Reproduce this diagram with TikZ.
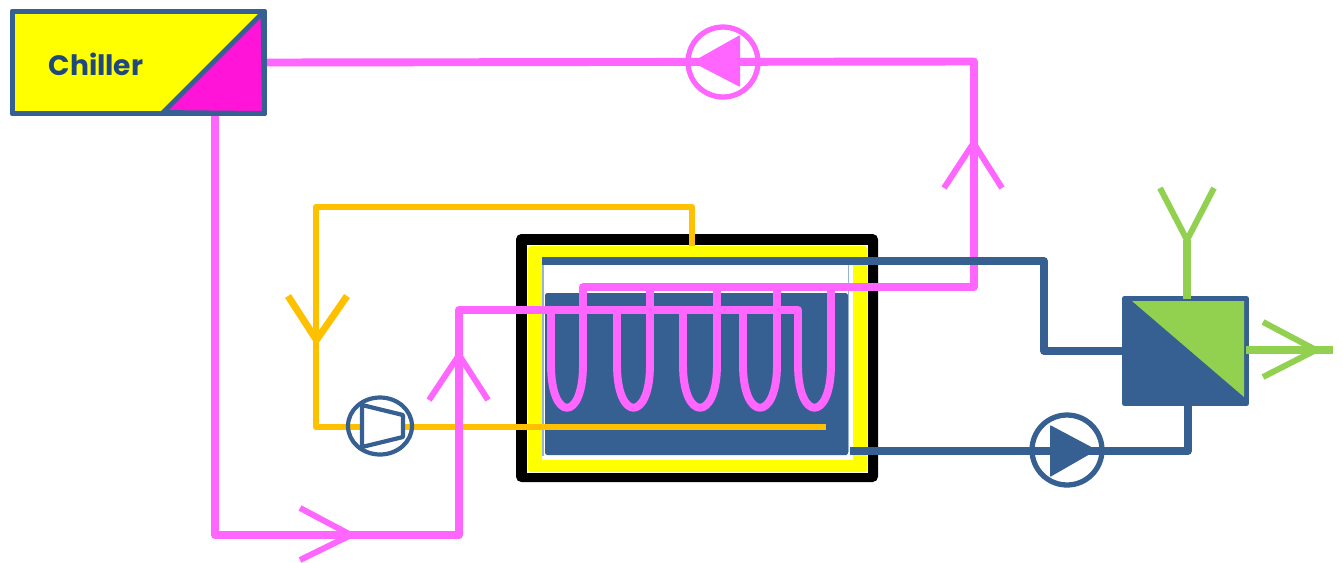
\documentclass[tikz,border=0pt]{standalone}
\usepackage{fontspec}
\setsansfont{Poppins}
\usetikzlibrary{shapes.geometric}
\definecolor{PipeBlue}{HTML}{376092}
\definecolor{TextBlue}{HTML}{1F497D}
\definecolor{PipePink}{HTML}{FF66FF}
\definecolor{PipeOrange}{HTML}{FFC000}
\definecolor{PipeGreen}{HTML}{92D050}
\definecolor{HotPink}{HTML}{FF14D8}
\definecolor{EdgeBlue}{HTML}{95B3D7}
\definecolor{TankYellow}{rgb}{1,1,0}
\tikzset{
  pinkpipe/.style={draw=PipePink, line width=4.5pt, line join=round},
  bluepipe/.style={draw=PipeBlue, line width=4.3pt, line join=round},
  orangepipe/.style={draw=PipeOrange, line width=3.7pt, line join=round},
  greenpipe/.style={draw=PipeGreen, line width=4.3pt, line join=round},
  pumpring/.style={circle, draw, fill=white, line width=3pt, minimum size=1.4cm, inner sep=0pt, outer sep=0pt},
  blockbox/.style={rectangle, draw=PipeBlue, line width=2.8pt, line join=round, inner sep=0pt, outer sep=0pt}
}
\begin{document}
\begin{tikzpicture}[x=0.02cm, y=-0.02cm]
    \useasboundingbox (0,0) rectangle (1343,562);
    % tank
    \fill[black, rounded corners=3pt] (516,234) rectangle (878,482);
    \fill[white] (527,245) rectangle (868,473);
    \fill[TankYellow, rounded corners=1pt] (528,246) rectangle (867,472);
    \fill[white] (542,259) rectangle (853,460);
    \fill[PipeBlue, rounded corners=1pt] (545,293) rectangle (848,455);
    \draw[EdgeBlue, line width=0.8pt] (543,263) -- (543,456);
    \draw[EdgeBlue, line width=0.8pt] (848.5,263) -- (848.5,452);
    % named points of the pipes
    \node[blockbox, fill=TankYellow, minimum width=5.04cm, minimum height=2.04cm] (chiller) at (138.5,62.5) {};
    \node[blockbox, fill=PipeBlue, minimum width=2.44cm, minimum height=2.1cm] (hx) at (1185.5,351) {};
    \coordinate (hotcorner) at (974,61.5);
    \coordinate (hotback) at (974,287);
    \coordinate (coilout) at (583,287);
    \coordinate (coldstart) at (215,115);
    \coordinate (coldcorner) at (215,535);
    \coordinate (coldriser) at (459,535);
    \coordinate (coldtop) at (459,310);
    \coordinate (coilin) at (798,310);
    \coordinate (tanktop) at (692,246);
    \coordinate (refrtop) at (692,207);
    \coordinate (refrleft) at (316,207);
    \coordinate (refrbot) at (316,427);
    \coordinate (refrend) at (826,427);
    \coordinate (blueleft) at (542,261);
    \coordinate (blueright) at (1044,261);
    \coordinate (bluedown) at (1044,351);
    \coordinate (bluestart) at (850,451);
    \coordinate (bluecorner) at (1188,451);
    \coordinate (greenup) at (1187,240);
    \coordinate (greenend) at (1333,350);
    % refrigerant
    \draw[orangepipe] (tanktop) -- (refrtop) -- (refrleft) -- (refrbot) -- (refrend);
    \draw[orangepipe, line width=3.97pt] (288,296) -- (316.5,340) -- (347,296);
    \node[ellipse, draw=PipeBlue, line width=2.4pt, minimum width=1.28cm, minimum height=1.14cm, inner sep=0pt] (compressor) at (380,426) {};
    \filldraw[draw=PipeBlue, fill=white, line width=2.4pt, line join=round]
    (362,405) -- (403,415) -- (403,437) -- (362,447) -- cycle;
    % chiller water, the coil
    \draw[pinkpipe] (chiller.east) -- (hotcorner) -- (hotback) -- (coilout) -- (583,370);
    \draw[pinkpipe] (chiller.south -| coldstart) -- (coldcorner) -- (coldriser) -- (coldtop) -- (coilin) -- (798,370);
    \foreach \lft/\rgt in {551/583, 617/650, 683/717, 743/777, 798/831}{
      \draw[pinkpipe] (\lft,310) -- (\lft,365) .. controls (\lft,422) and (\rgt,422) .. (\rgt,365) -- (\rgt,287);
    }
    \draw[pinkpipe, line width=3.4pt] (944,188) -- (973.5,143) -- (1002,188);
    \draw[pinkpipe, line width=3.4pt] (300,508) -- (351,535) -- (300,560);
    \draw[pinkpipe, line width=3.4pt] (429,400) -- (459,355) -- (488,400);
    \node[pumpring, draw=PipePink, fill=none] (pumpa) at (723,62) {};
    \fill[PipePink, rounded corners=0.5pt] (740,35) -- (692,62) -- (740,87) -- cycle;
    % heat source water
    \draw[bluepipe] (blueleft) -- (blueright) -- (bluedown) -- (hx.west |- bluedown);
    \draw[bluepipe] (bluestart) -- (bluecorner) -- (hx.south -| bluecorner);
    \node[pumpring, draw=PipeBlue, fill=none] (pumpb) at (1067,450) {};
    \fill[PipeBlue, rounded corners=0.5pt] (1050,425) -- (1097,450) -- (1050,477) -- cycle;
    % chiller and heat exchanger
    \filldraw[draw=PipeBlue, fill=HotPink, line width=2.8pt, line join=round] (263,12.5) -- (chiller.south east) -- (163,112.5) -- cycle;
    \node[blockbox, minimum width=5.04cm, minimum height=2.04cm] at (chiller) {};
    \node[font=\sffamily\bfseries\fontsize{16}{16}\selectfont, text=TextBlue, inner sep=0pt] (chillerlabel) at (96,64) {Chiller};
    \fill[PipeGreen] (1132,301) -- (1244,301) -- (1244,397) -- cycle;
    \draw[greenpipe] (hx.north -| greenup) -- (greenup);
    \draw[greenpipe, line width=3.4pt] (1160,188) -- (1187,240) -- (1214,188);
    \draw[greenpipe] (hx.east |- greenend) -- (greenend);
    \draw[greenpipe, line width=3.4pt] (1263,322) -- (1316,350) -- (1263,377);
\end{tikzpicture}
\end{document}
